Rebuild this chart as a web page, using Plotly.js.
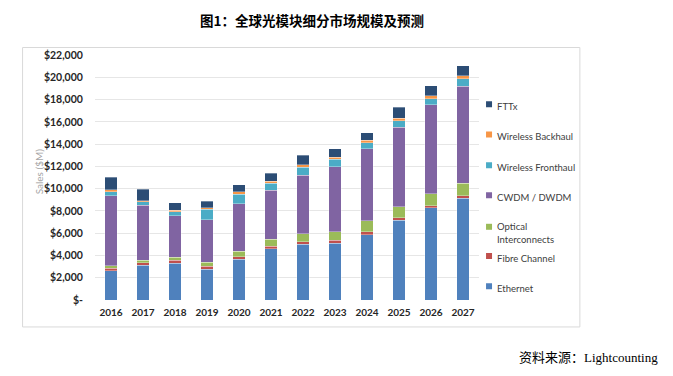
<!DOCTYPE html>
<html>
<head>
<meta charset="utf-8">
<script src="https://cdn.plot.ly/plotly-3.0.1.min.js"></script>
<style>html,body{margin:0;padding:0;background:#fff;}#chart{width:673px;height:376px;}</style>
</head>
<body>
<div id="chart"></div>
<script>
// ---- data (US$ millions) ----
const years = ['2016','2017','2018','2019','2020','2021','2022','2023','2024','2025','2026','2027'];
const ethernet  = [2630, 3100, 3310, 2750, 3670, 4600, 5010, 5100, 5880, 7160, 8270, 9130];
const fibreChannel = [240, 240, 270, 270, 210, 240, 240, 270, 240, 210, 210, 210];
const opticalInterconnects = [200, 240, 240, 390, 510, 630, 720, 750, 990, 990, 1070, 1130];
const cwdmDwdm  = [6300, 4930, 3760, 3790, 4270, 4390, 5250, 5850, 6450, 7160, 7970, 8720];
const wirelessFronthaul = [360, 300, 330, 930, 840, 630, 690, 660, 570, 570, 570, 660];
const wirelessBackhaul  = [150, 120, 150, 150, 240, 180, 240, 210, 210, 240, 240, 270];
const fttx      = [1160, 1010, 690, 600, 630, 720, 870, 720, 690, 960, 900, 900];
const seriesNames = ['Ethernet','Fibre Channel','Optical<br>Interconnects','CWDM / DWDM','Wireless Fronthaul','Wireless Backhaul','FTTx'];
const yTickVals = [0,2000,4000,6000,8000,10000,12000,14000,16000,18000,20000,22000];
const yTickText = ['$-','$2,000','$4,000','$6,000','$8,000','$10,000','$12,000','$14,000','$16,000','$18,000','$20,000','$22,000'];

const seriesValues = [ethernet, fibreChannel, opticalInterconnects, cwdmDwdm, wirelessFronthaul, wirelessBackhaul, fttx];
const colors = ['#4f81bd','#c0504d','#9bbb59','#8064a2','#4bacc6','#f79646','#2c4d75'];
const legendIds = ['legend7','legend6','legend5','legend4','legend3','legend2','legend'];
const legendY = [0.0489, 0.1723, 0.273, 0.4196, 0.543, 0.668, 0.7914];

const traces = seriesValues.map((vals, i) => ({
  type: 'bar',
  x: years,
  y: vals,
  name: seriesNames[i],
  legend: legendIds[i],
  showlegend: true,
  marker: {color: colors[i], line: {color: 'rgba(255,255,255,0.55)', width: 0.6}},
  hoverinfo: 'x+y+name'
}));

const layout = {
  width: 673, height: 376,
  showlegend: true,
  paper_bgcolor: '#ffffff', plot_bgcolor: '#ffffff',
  margin: {l: 94.5, r: 194, t: 54.5, b: 76},
  barmode: 'stack',
  bargap: 0.61,
  font: {family: 'Lato, "Liberation Sans", sans-serif', color: '#404040', size: 10},
  title: {
    text: '<b>图1：全球光模块细分市场规模及预测</b>',
    font: {family: '"Noto Sans CJK SC", sans-serif', size: 13.5, color: '#000'},
    x: 0.4636, xref: 'container', xanchor: 'center',
    y: 0.944, yref: 'container', yanchor: 'middle'
  },
  xaxis: {
    type: 'category',
    tickfont: {family: 'Lato, sans-serif', size: 10, color: '#262626', weight: 'bold'},
    showgrid: false, zeroline: false, showline: false,
    ticks: 'outside', ticklen: 3, tickcolor: 'rgba(0,0,0,0)'
  },
  yaxis: {
    range: [0, 22000],
    tickvals: yTickVals, ticktext: yTickText,
    tickfont: {family: 'Lato, sans-serif', size: 10.5, color: '#262626', weight: 'bold'},
    showgrid: true, gridcolor: '#e6e6e6', gridwidth: 1,
    zeroline: false, showline: false,
    ticks: 'outside', ticklen: 9, tickcolor: 'rgba(0,0,0,0)'
  },
  shapes: [{
    type: 'rect', xref: 'paper', yref: 'paper',
    x0: -0.1886, x1: 1.2627, y0: -0.11, y1: 1.0305,
    line: {color: '#d9d9d9', width: 1}, fillcolor: 'rgba(0,0,0,0)', layer: 'below'
  }],
  annotations: [{
    text: 'Sales ($M)', textangle: -90,
    xref: 'paper', yref: 'paper', x: -0.1456, y: 0.5255,
    xanchor: 'center', yanchor: 'middle', showarrow: false,
    font: {family: 'Lato, sans-serif', size: 10, color: '#a6a6a6'}
  }, {
    text: '资料来源：Lightcounting',
    xref: 'paper', yref: 'paper', x: 1.4707, y: -0.236,
    xanchor: 'right', yanchor: 'middle', showarrow: false,
    font: {family: '"Liberation Serif", "Noto Sans CJK SC", serif', size: 13, color: '#000'}
  }]
};

legendIds.forEach((id, i) => {
  layout[id] = {
    x: 0.9428, xanchor: 'left', y: legendY[i], yanchor: 'middle',
    bgcolor: 'rgba(0,0,0,0)', borderwidth: 0,
    font: {family: 'Lato, sans-serif', size: 9.5, color: '#404040'},
    valign: 'top', itemwidth: 30, visible: true
  };
});

Plotly.newPlot('chart', traces, layout, {displayModeBar: false, staticPlot: true}).then(gd => {
  // shrink legend swatches to small squares next to the labels, like the original
  gd.querySelectorAll('.legendpoints path').forEach(p => {
    p.setAttribute('transform', 'translate(32,0) scale(0.5)');
    p.style.strokeWidth = '0';
  });
});
</script>
</body>
</html>
